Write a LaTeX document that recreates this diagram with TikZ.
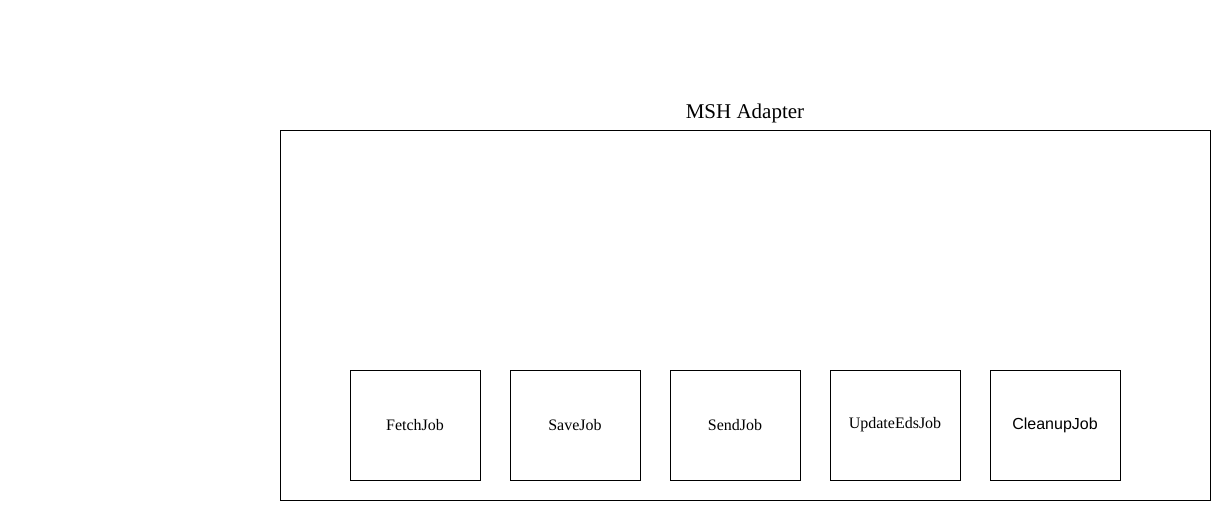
\documentclass[tikz,border=0pt]{standalone}
\usepackage{fontspec}
\setmainfont{DejaVu Serif}
\newfontfamily\boxserif{Liberation Serif}
\newfontfamily\boxsans{Liberation Sans}
\begin{document}
\begin{tikzpicture}[x=1pt,y=-1pt,
  job/.style={draw=black,line width=0.8pt,minimum width=130pt,minimum height=110pt,inner sep=0pt,font=\boxserif\fontsize{16}{18}\selectfont}]
\useasboundingbox (0,0) rectangle (1230,520);
\node[draw=black,line width=0.8pt,minimum width=930pt,minimum height=370pt,inner sep=0pt] (adapter) at (745,315) {};
\node[font=\boxserif\fontsize{21}{24}\selectfont] (title) at (745,113) {MSH Adapter};
\node[job] (fetch) at (415,425) {FetchJob};
\node[job] (save) at (575,425) {SaveJob};
\node[job] (send) at (735,425) {SendJob};
\node[job] (update) at (895,425) {UpdateEdsJob};
\node[job,font=\boxsans\fontsize{16}{18}\selectfont] (cleanup) at (1055,425) {CleanupJob};
\end{tikzpicture}
\end{document}
